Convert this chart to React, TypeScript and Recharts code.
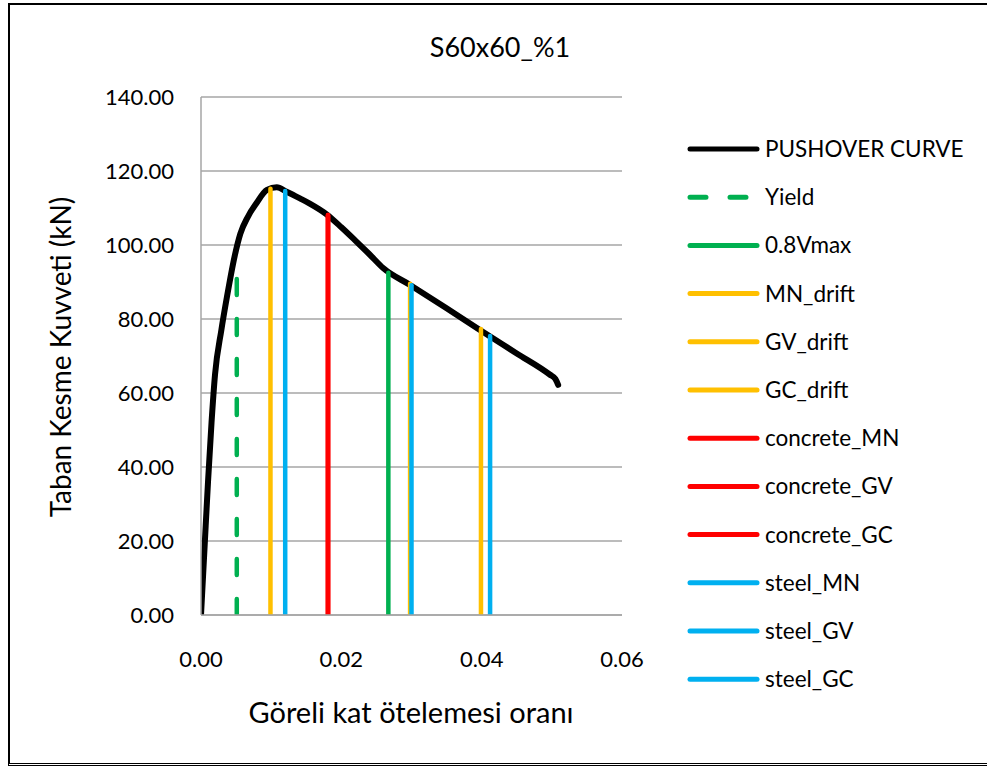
import React from 'react';
import { LineChart, Line, XAxis, YAxis, CartesianGrid } from 'recharts';

// Pushover curve (drift ratio vs base shear)
const pushoverDrift = [0, 0.0005, 0.001, 0.0015, 0.002, 0.0029, 0.0037, 0.0048, 0.0056, 0.0067, 0.0079, 0.0094, 0.0108, 0.0122, 0.0141, 0.0155, 0.0179, 0.02, 0.022, 0.024, 0.026, 0.0298, 0.035, 0.0397, 0.045, 0.0497, 0.0505, 0.0509];
const pushoverShear = [0, 18, 36, 52, 65, 77, 86, 97, 103, 107.7, 111.3, 114.9, 115.6, 114.4, 112.6, 111.2, 108.3, 104.8, 101.2, 97.5, 93.7, 89.2, 82.9, 77.1, 70.7, 65.0, 63.8, 62.2];

// Vertical marker lines
const markerNames = ['Yield', '0.8Vmax', 'MN_drift', 'GV_drift', 'GC_drift', 'concrete_MN', 'concrete_GV', 'concrete_GC', 'steel_MN', 'steel_GV', 'steel_GC'];
const markerDrift = [0.0051, 0.0267, 0.0099, 0.0298, 0.0399, 0.0181, 0.0181, 0.0181, 0.012, 0.03, 0.0412];
const markerTop = [92.5, 92.5, 115.2, 89.5, 77.3, 108.1, 108.1, 108.1, 114.6, 89.1, 75.4];

const xTicks = [0, 0.02, 0.04, 0.06];
const yTicks = [0, 20, 40, 60, 80, 100, 120, 140];

const title = 'S60x60_%1';
const xTitle = 'Göreli kat ötelemesi oranı';
const yTitle = 'Taban Kesme Kuvveti (kN)';
const curveName = 'PUSHOVER CURVE';

const GREEN = '#00B050';
const YELLOW = '#FFC000';
const RED = '#FF0000';
const BLUE = '#00B0F0';
const markerColors = [GREEN, GREEN, YELLOW, YELLOW, YELLOW, RED, RED, RED, BLUE, BLUE, BLUE];

const FONT = 'Lato, "Open Sans", sans-serif';
const W = 987;
const H = 767;

const curveData = pushoverDrift.map((x, i) => ({ x, y: pushoverShear[i] }));
const markerData = markerNames.map((_, i) => [
  { x: markerDrift[i], y: 0 },
  { x: markerDrift[i], y: markerTop[i] },
]);

const legendItems = [
  { name: curveName, color: '#000000', dashed: false },
  ...markerNames.map((n, i) => ({ name: n, color: markerColors[i], dashed: i === 0 })),
];

export default function App() {
  return (
    <div style={{ position: 'absolute', left: 0, top: 0, width: W, height: H, background: '#fff', overflow: 'hidden', fontFamily: FONT }}>
      <LineChart width={W} height={H} margin={{ top: 97, right: 365, bottom: 92, left: 0 }}>
        <CartesianGrid vertical={false} stroke="#a6a6a6" strokeWidth={1.5} />
        <XAxis
          type="number"
          dataKey="x"
          domain={[0, 0.06]}
          ticks={xTicks}
          tickFormatter={(v: number) => v.toFixed(2)}
          height={60}
          tickLine={false}
          tickSize={0}
          tickMargin={36}
          axisLine={{ stroke: '#a6a6a6', strokeWidth: 1.5 }}
          tick={{ fill: '#000', fontSize: 22, fontFamily: FONT }}
          allowDataOverflow
        />
        <YAxis
          type="number"
          dataKey="y"
          domain={[0, 140]}
          ticks={yTicks}
          tickFormatter={(v: number) => v.toFixed(2)}
          width={201}
          tickLine={false}
          tickSize={0}
          tickMargin={27}
          axisLine={{ stroke: '#a6a6a6', strokeWidth: 1.5 }}
          tick={{ fill: '#000', fontSize: 22, fontFamily: FONT }}
          allowDataOverflow
        />
        <Line
          data={curveData}
          dataKey="y"
          name={curveName}
          type="monotone"
          stroke="#000"
          strokeWidth={6}
          strokeLinecap="round"
          strokeLinejoin="round"
          dot={false}
          activeDot={false}
          isAnimationActive={false}
        />
        {markerData.map((d, i) => (
          <Line
            key={markerNames[i]}
            data={d}
            dataKey="y"
            name={markerNames[i]}
            type="linear"
            stroke={markerColors[i]}
            strokeWidth={4.5}
            strokeLinecap="round"
            strokeDasharray={i === 0 ? '16 24' : undefined}
            dot={false}
            activeDot={false}
            isAnimationActive={false}
          />
        ))}
      </LineChart>
      <svg width={W} height={H} style={{ position: 'absolute', left: 0, top: 0, pointerEvents: 'none' }}>
        <text x={500} y={57} textAnchor="middle" fontSize={27} fontFamily={FONT} fill="#000">{title}</text>
        <text x={411} y={723} textAnchor="middle" fontSize={29} fontFamily={FONT} fill="#000">{xTitle}</text>
        <text transform="translate(71,357) rotate(-90)" textAnchor="middle" fontSize={28} fontFamily={FONT} fill="#000">{yTitle}</text>
        {legendItems.map((it, i) => {
          const cy = 149 + 48.2 * i;
          return (
            <g key={it.name}>
              <line x1={690} x2={757} y1={cy} y2={cy} stroke={it.color} strokeWidth={5} strokeLinecap="round" strokeDasharray={it.dashed ? '16 24' : undefined} />
              <text x={765} y={cy + 8} fontSize={22.5} fontFamily={FONT} fill="#000">{it.name}</text>
            </g>
          );
        })}
      </svg>
      <div style={{ position: 'absolute', left: 8, top: 3, width: 1000, height: 763, borderTop: '2px solid #000', borderLeft: '2px solid #000', borderBottom: '3px double #000', boxSizing: 'border-box' }} />
    </div>
  );
}
